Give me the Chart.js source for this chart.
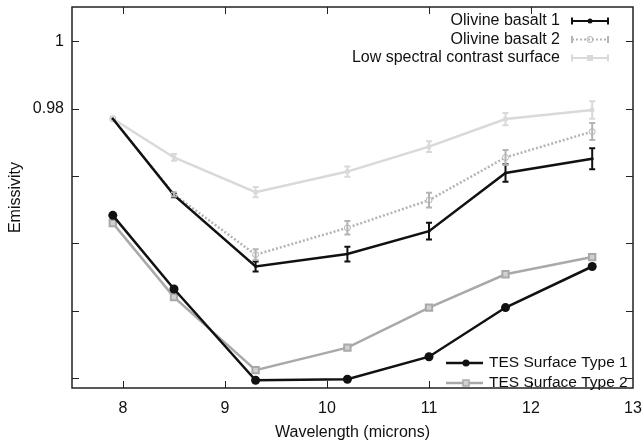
<!DOCTYPE html>
<html><head><meta charset="utf-8">
<script src="https://cdn.jsdelivr.net/npm/chart.js@4/dist/chart.umd.min.js"></script>
<style>html,body{margin:0;padding:0;background:#fff}#wrap{width:644px;height:445px}</style>
</head><body><div id="wrap"><canvas id="c" width="644" height="445"></canvas></div>
<script>
const wavelengths = [7.9, 8.5, 9.3, 10.2, 11.0, 11.75, 12.6];
const olivine1 = [0.9770, 0.9543, 0.9331, 0.9368, 0.9436, 0.9609, 0.9651];
const olivine1Err = [0, 0.0006, 0.0015, 0.0022, 0.0025, 0.0026, 0.0031];
const olivine2 = [0.9770, 0.9545, 0.9366, 0.9446, 0.9528, 0.9655, 0.9732];
const olivine2Err = [0, 0.0006, 0.0016, 0.0020, 0.0022, 0.0022, 0.0025];
const lowContrast = [0.9770, 0.9655, 0.9552, 0.9613, 0.9687, 0.9769, 0.9796];
const lowContrastErr = [0, 0.0010, 0.0015, 0.0015, 0.0016, 0.0018, 0.0026];
const tes1 = [0.9483, 0.9264, 0.8993, 0.8996, 0.9063, 0.9209, 0.9331];
const tes2 = [0.9460, 0.9240, 0.9023, 0.9090, 0.9209, 0.9308, 0.9359];
const xTicks = [8, 9, 10, 11, 12, 13];
const yTicks = [0.90, 0.92, 0.94, 0.96, 0.98, 1.00];
const yLabeled = ['0.98', '1'];
const seriesNames = ['Olivine basalt 1', 'Olivine basalt 2', 'Low spectral contrast surface', 'TES Surface Type 1', 'TES Surface Type 2'];

const FONT = "'Liberation Sans', Arial, sans-serif";
const C_BLACK = '#111111', C_OL2 = '#b4b4b4', C_LOW = '#d9d9d9', C_TES2 = '#a9a9a9';

function pts(ys) { return wavelengths.map((x, i) => ({x: x, y: ys[i]})); }

const errPlugin = {
  id: 'errbars',
  afterDatasetsDraw(chart) {
    const ctx = chart.ctx, xs = chart.scales.x, ys = chart.scales.y;
    chart.data.datasets.forEach((ds, di) => {
      if (!ds.errors) return;
      ctx.save();
      ctx.strokeStyle = ds.errColor; ctx.lineWidth = 2;
      ds.data.forEach((p, i) => {
        const e = ds.errors[i]; if (!e) return;
        const px = xs.getPixelForValue(p.x);
        const y1 = ys.getPixelForValue(p.y + e), y2 = ys.getPixelForValue(p.y - e);
        ctx.beginPath();
        ctx.moveTo(px, y1); ctx.lineTo(px, y2);
        ctx.moveTo(px - 3, y1); ctx.lineTo(px + 3, y1);
        ctx.moveTo(px - 3, y2); ctx.lineTo(px + 3, y2);
        ctx.stroke();
      });
      ctx.restore();
    });
  }
};

const framePlugin = {
  id: 'frame',
  afterDraw(chart) {
    const ctx = chart.ctx, a = chart.chartArea, xs = chart.scales.x, ys = chart.scales.y;
    ctx.save();
    ctx.strokeStyle = '#222'; ctx.lineWidth = 1.5;
    ctx.strokeRect(a.left, a.top, a.right - a.left, a.bottom - a.top);
    ctx.lineWidth = 1;
    ctx.beginPath();
    xTicks.forEach(v => {
      const px = Math.round(xs.getPixelForValue(v)) + 0.5;
      if (px >= a.right - 1) return;
      ctx.moveTo(px, a.bottom); ctx.lineTo(px, a.bottom - 7);
      ctx.moveTo(px, a.top); ctx.lineTo(px, a.top + 7);
    });
    yTicks.forEach(v => {
      const py = Math.round(ys.getPixelForValue(v)) + 0.5;
      ctx.moveTo(a.left, py); ctx.lineTo(a.left + 7, py);
      ctx.moveTo(a.right, py); ctx.lineTo(a.right - 7, py);
    });
    ctx.stroke();

    // legends
    ctx.font = '16px ' + FONT;
    ctx.fillStyle = '#111';
    ctx.textBaseline = 'middle';
    const top = [
      {name: seriesNames[0], y: 21, col: C_BLACK, dash: [], marker: 'dot'},
      {name: seriesNames[1], y: 39.5, col: C_OL2, dash: [2, 2], marker: 'ring'},
      {name: seriesNames[2], y: 58, col: C_LOW, dash: [], marker: 'sq'}
    ];
    top.forEach(r => {
      ctx.textAlign = 'right';
      ctx.fillText(r.name, 560, r.y);
      ctx.strokeStyle = r.col; ctx.lineWidth = 2; ctx.setLineDash(r.dash);
      ctx.beginPath(); ctx.moveTo(572, r.y); ctx.lineTo(608, r.y); ctx.stroke();
      ctx.setLineDash([]);
      ctx.beginPath();
      ctx.moveTo(572, r.y - 3.5); ctx.lineTo(572, r.y + 3.5);
      ctx.moveTo(608, r.y - 3.5); ctx.lineTo(608, r.y + 3.5);
      ctx.stroke();
      if (r.marker === 'dot') { ctx.fillStyle = r.col; ctx.beginPath(); ctx.arc(590, r.y, 2.5, 0, Math.PI * 2); ctx.fill(); }
      if (r.marker === 'ring') { ctx.lineWidth = 1; ctx.beginPath(); ctx.arc(590, r.y, 3, 0, Math.PI * 2); ctx.stroke(); }
      if (r.marker === 'sq') { ctx.fillStyle = r.col; ctx.fillRect(587, r.y - 3, 6, 6); }
      ctx.fillStyle = '#111';
    });
    ctx.font = '15.5px ' + FONT;
    const bot = [
      {name: seriesNames[3], y: 363, col: C_BLACK},
      {name: seriesNames[4], y: 383, col: C_TES2}
    ];
    bot.forEach((r, i) => {
      ctx.strokeStyle = r.col; ctx.lineWidth = 2.5;
      ctx.beginPath(); ctx.moveTo(446, r.y); ctx.lineTo(483, r.y); ctx.stroke();
      if (i === 0) { ctx.fillStyle = r.col; ctx.beginPath(); ctx.arc(466, r.y, 3.5, 0, Math.PI * 2); ctx.fill(); }
      else { ctx.fillStyle = '#d0d0d0'; ctx.lineWidth = 1.5; ctx.fillRect(463, r.y - 3, 6, 6); ctx.strokeRect(463, r.y - 3, 6, 6); }
      ctx.fillStyle = '#111'; ctx.textAlign = 'left';
      ctx.fillText(r.name, 489, r.y);
    });
    ctx.restore();
  }
};

new Chart(document.getElementById('c'), {
  type: 'line',
  data: {
    datasets: [
      {label: seriesNames[3], data: pts(tes1), borderColor: C_BLACK, backgroundColor: C_BLACK, borderWidth: 2.5,
        pointStyle: 'circle', pointRadius: 4.5, pointBorderWidth: 0},
      {label: seriesNames[0], data: pts(olivine1), errors: olivine1Err, errColor: C_BLACK, borderColor: C_BLACK,
        backgroundColor: C_BLACK, borderWidth: 2.5, pointRadius: 1.5, pointBorderWidth: 0},
      {label: seriesNames[4], data: pts(tes2), borderColor: C_TES2, backgroundColor: '#d0d0d0', borderWidth: 2.5,
        pointStyle: 'rect', pointRadius: 4.5, pointBorderWidth: 2, pointBorderColor: C_TES2},
      {label: seriesNames[1], data: pts(olivine2), errors: olivine2Err, errColor: C_OL2, borderColor: C_OL2,
        backgroundColor: '#ffffff', borderWidth: 2.5, borderDash: [2, 2], pointStyle: 'circle', pointRadius: 3,
        pointBorderWidth: 1, pointBorderColor: C_OL2},
      {label: seriesNames[2], data: pts(lowContrast), errors: lowContrastErr, errColor: C_LOW, borderColor: C_LOW,
        backgroundColor: C_LOW, borderWidth: 2.5, pointStyle: 'rect', pointRadius: 3, pointBorderWidth: 0}
    ]
  },
  options: {
    responsive: false,
    animation: false,
    devicePixelRatio: 1,
    layout: {padding: {left: 0, top: 7, right: 11, bottom: 0}},
    plugins: {legend: {display: false}, tooltip: {enabled: false}},
    scales: {
      x: {
        type: 'linear', min: 7.5, max: 13,
        afterFit(s) { s.height = 57; s.paddingLeft = 0; s.paddingRight = 0; },
        afterBuildTicks(s) { s.ticks = xTicks.map(v => ({value: v})); },
        grid: {display: false, drawTicks: false},
        border: {display: false},
        ticks: {color: '#111', font: {family: FONT, size: 16}, padding: 11, maxRotation: 0, autoSkip: false},
        title: {display: true, text: 'Wavelength (microns)', color: '#111', font: {family: FONT, size: 16}, padding: {top: 0, bottom: 3}}
      },
      y: {
        min: 0.897, max: 1.0102,
        afterFit(s) { s.width = 72; s.paddingTop = 0; s.paddingBottom = 0; },
        afterBuildTicks(s) { s.ticks = yTicks.map(v => ({value: v})); },
        grid: {display: false, drawTicks: false},
        border: {display: false},
        ticks: {color: '#111', font: {family: FONT, size: 16}, padding: 8, autoSkip: false,
          callback(v) { const t = String(Math.round(v * 100) / 100); return yLabeled.includes(t) ? t : ''; }},
        title: {display: true, text: 'Emissivity', color: '#111', font: {family: FONT, size: 16}, padding: {top: 6, bottom: 0}}
      }
    }
  },
  plugins: [errPlugin, framePlugin]
});
</script>
</body></html>
